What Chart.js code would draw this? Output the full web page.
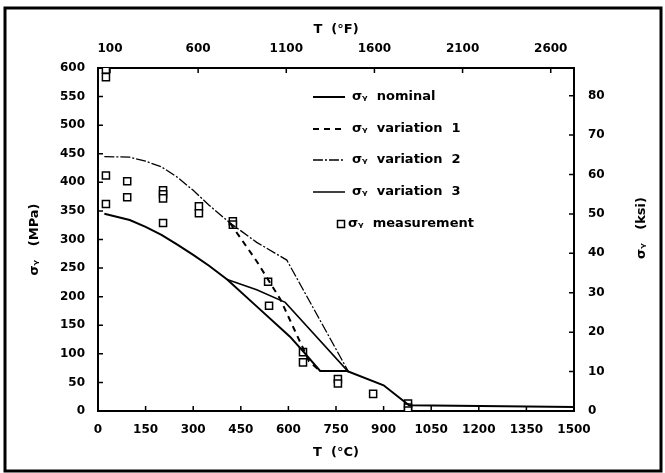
<!DOCTYPE html>
<html>
<head>
<meta charset="utf-8">
<script src="https://cdn.jsdelivr.net/npm/chart.js@4/dist/chart.umd.min.js"></script>
<style>
  html, body { margin: 0; padding: 0; background: #fff; }
  #wrap { position: relative; width: 665px; height: 473px; }
</style>
</head>
<body>
<div id="wrap"><canvas id="chart"></canvas></div>
<script>
// temperature (C) / yield stress (MPa)
const nominalT = [20, 100, 150, 200, 250, 300, 350, 407, 500, 605, 650, 700, 785, 900, 980, 1500];
const nominalS = [345, 334, 322, 308, 291, 273, 254, 230, 183, 130, 102, 70, 70, 45, 10, 7];

const var1T = [416, 500, 575, 665, 700];
const var1S = [329, 262, 195, 87, 70];

const var2T = [20, 100, 150, 200, 250, 300, 350, 416, 500, 595, 790];
const var2S = [445, 444, 437, 427, 409, 386, 360, 329, 295, 264, 68];

const var3T = [407, 500, 590, 790];
const var3S = [230, 212, 190, 68];

const measT = [25, 25, 25, 25, 92, 92, 205, 205, 205, 205, 318, 318, 425, 425, 536, 539, 646, 646, 756, 756, 867, 977, 977, 977];
const measS = [597, 584, 412, 362, 402, 374, 386, 379, 372, 329, 358, 346, 332, 326, 226, 184, 103, 85, 56, 48, 30, 13, 6, 1];

const celsiusTicks = [0, 150, 300, 450, 600, 750, 900, 1050, 1200, 1350, 1500];
const fahrenheitTicks = [100, 600, 1100, 1600, 2100, 2600];
const mpaTicks = [0, 50, 100, 150, 200, 250, 300, 350, 400, 450, 500, 550, 600];
const ksiTicks = [0, 10, 20, 30, 40, 50, 60, 70, 80];

const MPA_PER_KSI = 6.894757;
const FONT = "'DejaVu Sans', sans-serif";

const pts = (xs, ys) => xs.map((x, i) => ({ x: x, y: ys[i] }));

const lineSet = (label, data, width, dash) => ({
  label: label,
  data: data,
  borderColor: "#000",
  borderWidth: width,
  borderDash: dash,
  pointRadius: 0,
  tension: 0,
  fill: false,
});

const fixedTicks = (list) => (scale) => {
  scale.ticks = list.map((v) => ({ value: v }));
};

// frame around the whole figure
const framePlugin = {
  id: "frame",
  beforeDraw(chart) {
    const ctx = chart.ctx;
    ctx.save();
    ctx.fillStyle = "#fff";
    ctx.fillRect(0, 0, chart.width, chart.height);
    ctx.strokeStyle = "#000";
    ctx.lineWidth = 3;
    ctx.strokeRect(5, 8, 656, 463);
    ctx.restore();
  },
};

// small tick marks pointing into the plot box
const inwardTicks = {
  id: "inwardTicks",
  afterDraw(chart) {
    const ctx = chart.ctx;
    const a = chart.chartArea;
    const len = 5;
    ctx.save();
    ctx.strokeStyle = "#000";
    ctx.lineWidth = 1.5;
    ctx.beginPath();
    Object.values(chart.scales).forEach((s) => {
      s.ticks.forEach((t) => {
        const p = s.getPixelForValue(t.value);
        if (s.position === "bottom") { ctx.moveTo(p, a.bottom); ctx.lineTo(p, a.bottom - len); }
        if (s.position === "top") { ctx.moveTo(p, a.top); ctx.lineTo(p, a.top + len); }
        if (s.position === "left") { ctx.moveTo(a.left, p); ctx.lineTo(a.left + len, p); }
        if (s.position === "right") { ctx.moveTo(a.right, p); ctx.lineTo(a.right - len, p); }
      });
    });
    ctx.stroke();
    ctx.restore();
  },
};

// legend inside the plot + right axis title (reads bottom to top)
const legendPlugin = {
  id: "sigmaLegend",
  afterDraw(chart) {
    const ctx = chart.ctx;
    const rows = [
      { text: "σᵧ  nominal", width: 2, dash: [] },
      { text: "σᵧ  variation  1", width: 2, dash: [6, 5] },
      { text: "σᵧ  variation  2", width: 1.3, dash: [10, 2, 2, 2] },
      { text: "σᵧ  variation  3", width: 1.5, dash: [] },
    ];
    const ys = [97, 129, 160, 192];
    ctx.save();
    ctx.fillStyle = "#000";
    ctx.strokeStyle = "#000";
    ctx.font = "bold 13px " + FONT;
    ctx.textBaseline = "middle";
    rows.forEach((r, i) => {
      ctx.lineWidth = r.width;
      ctx.setLineDash(r.dash);
      ctx.beginPath();
      ctx.moveTo(313, ys[i]);
      ctx.lineTo(345, ys[i]);
      ctx.stroke();
      ctx.fillText(r.text, 352, ys[i]);
    });
    ctx.setLineDash([]);
    ctx.lineWidth = 1.5;
    ctx.strokeRect(337.5, 220.5, 7, 7);
    ctx.fillText("σᵧ  measurement", 348, 224);

    ctx.translate(642, 228);
    ctx.rotate(-Math.PI / 2);
    ctx.textAlign = "center";
    ctx.fillText("σᵧ   (ksi)", 0, 0);
    ctx.restore();
  },
};

const tickFont = { family: FONT, size: 12, weight: "bold" };
const titleFont = { family: FONT, size: 13, weight: "bold" };
const noGrid = { drawOnChartArea: false, drawTicks: false };
const axisBorder = { display: true, color: "#000", width: 2 };
const plain = (v) => String(v);

new Chart(document.getElementById("chart"), {
  type: "line",
  data: {
    datasets: [
      lineSet("σy nominal", pts(nominalT, nominalS), 2, []),
      lineSet("σy variation 1", pts(var1T, var1S), 2, [6, 5]),
      lineSet("σy variation 2", pts(var2T, var2S), 1.3, [10, 2, 2, 2]),
      lineSet("σy variation 3", pts(var3T, var3S), 1.5, []),
      {
        label: "σy measurement",
        data: pts(measT, measS),
        showLine: false,
        pointStyle: "rect",
        pointRadius: 5,
        pointBorderWidth: 1.5,
        pointBorderColor: "#000",
        pointBackgroundColor: "#fff",
      },
    ],
  },
  options: {
    responsive: true,
    maintainAspectRatio: false,
    animation: false,
    layout: { padding: 0 },
    plugins: {
      legend: { display: false },
      tooltip: { enabled: false },
    },
    scales: {
      x: {
        type: "linear",
        position: "bottom",
        min: 0,
        max: 1500,
        afterBuildTicks: fixedTicks(celsiusTicks),
        afterFit: (s) => { s.height = 62; },
        grid: noGrid,
        border: axisBorder,
        ticks: { font: tickFont, color: "#000", padding: 12, maxRotation: 0, autoSkip: false, callback: plain },
        title: { display: true, text: "T  (°C)", font: titleFont, color: "#000", padding: { top: 0, bottom: 13 } },
      },
      x2: {
        type: "linear",
        position: "top",
        min: 32,
        max: 32 + 1.8 * 1500,
        afterBuildTicks: fixedTicks(fahrenheitTicks),
        afterFit: (s) => { s.height = 68; },
        grid: noGrid,
        border: axisBorder,
        ticks: { font: tickFont, color: "#000", padding: 12, maxRotation: 0, autoSkip: false, callback: plain },
        title: { display: true, text: "T  (°F)", font: titleFont, color: "#000", padding: { top: 22, bottom: 0 } },
      },
      y: {
        type: "linear",
        position: "left",
        min: 0,
        max: 600,
        afterBuildTicks: fixedTicks(mpaTicks),
        afterFit: (s) => { s.width = 98; },
        grid: noGrid,
        border: axisBorder,
        ticks: { font: tickFont, color: "#000", padding: 13, autoSkip: false, callback: plain },
        title: { display: true, text: "σᵧ   (MPa)", font: titleFont, color: "#000", padding: { top: 27, bottom: 0 } },
      },
      y2: {
        type: "linear",
        position: "right",
        min: 0,
        max: 600 / MPA_PER_KSI,
        afterBuildTicks: fixedTicks(ksiTicks),
        afterFit: (s) => { s.width = 91; },
        grid: noGrid,
        border: axisBorder,
        ticks: { font: tickFont, color: "#000", padding: 14, autoSkip: false, callback: plain },
      },
    },
  },
  plugins: [framePlugin, inwardTicks, legendPlugin],
});
</script>
</body>
</html>
